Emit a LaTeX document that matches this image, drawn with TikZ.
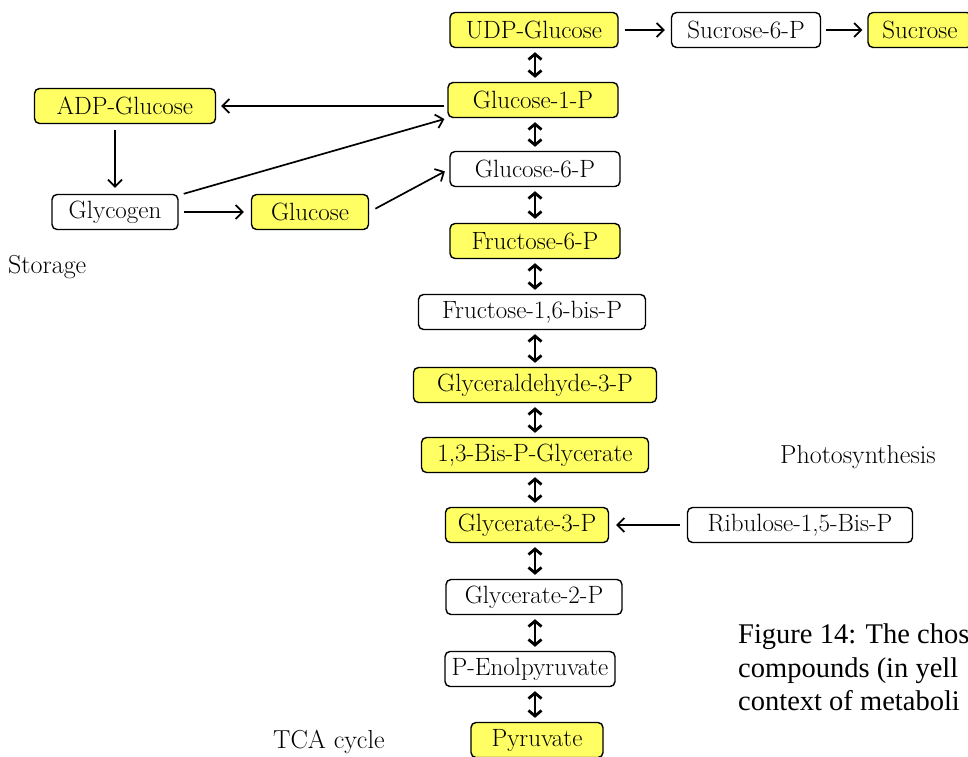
\documentclass[tikz,border=0pt]{standalone}
\usepackage{fontspec}
\usepackage{tikz}
\usetikzlibrary{arrows.meta,positioning,calc}
\newfontfamily\capfont{Liberation Serif}
\definecolor{cpyellow}{RGB}{255,255,100}
\newcommand{\boxfont}{\fontsize{25}{29}\selectfont}
\newcommand{\lblfont}{\fontsize{26}{30}\selectfont}
\tikzset{
  cpbox/.style={draw=black, line width=1.4pt, rounded corners=5pt, fill=cpyellow, minimum height=35pt, inner sep=3pt, font=\boxfont, align=center},
  otbox/.style={cpbox, fill=white},
  lbl/.style={font=\lblfont, inner sep=0pt, anchor=base west},
  capt/.style={font=\capfont\fontsize{28.5}{34}\selectfont, inner sep=0pt, anchor=base west},
  arr/.style={-{Straight Barb[length=7pt,width=14pt]}, line width=1.7pt},
  dbl/.style={{Straight Barb[length=5.5pt,width=13pt]}-{Straight Barb[length=5.5pt,width=13pt]}, line width=2.8pt, shorten >=4pt, shorten <=4pt},
}
\begin{document}
\begin{tikzpicture}[x=1pt,y=-1pt]
  \useasboundingbox (0,0) rectangle (968,756);
  % main chain
  \node[cpbox, minimum width=168pt] (udp) at (534,30) {UDP-Glucose};
  \node[otbox, minimum width=149pt] (suc6p) at (746,30) {Sucrose-6-P};
  \node[cpbox, minimum width=104pt] (suc) at (920,30) {Sucrose};
  \node[cpbox, minimum width=170pt] (g1p) at (533,100) {Glucose-1-P};
  \node[otbox, minimum width=170pt] (g6p) at (535,169) {Glucose-6-P};
  \node[cpbox, minimum width=170pt] (f6p) at (535,241) {Fructose-6-P};
  \node[otbox, minimum width=227pt] (f16bp) at (532,312) {Fructose-1,6-bis-P};
  \node[cpbox, minimum width=243pt] (gap) at (535,385) {Glyceraldehyde-3-P};
  \node[cpbox, minimum width=227pt] (bpg) at (535,455) {1,3-Bis-P-Glycerate};
  \node[cpbox, minimum width=163pt] (g3p) at (527,525) {Glycerate-3-P};
  \node[otbox, minimum width=225pt] (rubp) at (800,525) {Ribulose-1,5-Bis-P};
  \node[otbox, minimum width=176pt] (g2p) at (534,597) {Glycerate-2-P};
  \node[otbox, minimum width=170pt] (pep) at (530,669) {P-Enolpyruvate};
  \node[cpbox, minimum width=132pt] (pyr) at (537,740) {Pyruvate};
  % storage side
  \node[cpbox, minimum width=181pt] (adp) at (125,106) {ADP-Glucose};
  \node[otbox, minimum width=126pt] (glycogen) at (115,212) {Glycogen};
  \node[cpbox, minimum width=117pt] (glc) at (310,212) {Glucose};
  % labels
  \node[lbl] (storage) at (8,273) {Storage};
  \node[lbl] (photo) at (780,463) {Photosynthesis};
  \node[lbl] (tca) at (273,748) {TCA cycle};
  \node[capt] (cap1) at (738,643) {Figure 14: The chos};
  \node[capt] (cap2) at (738,677) {compounds (in yell};
  \node[capt] (cap3) at (738,710) {context of metaboli};
  % reversible steps
  \coordinate (spine) at (535,0);
  \foreach \a/\b in {udp/g1p,g1p/g6p,g6p/f6p,f6p/f16bp,f16bp/gap,gap/bpg,bpg/g3p,g3p/g2p,g2p/pep,pep/pyr}
    \draw[dbl] (spine |- \a.south) -- (spine |- \b.north);
  % one-way steps
  \draw[arr, shorten <=6pt, shorten >=6pt] (udp.east) -- (suc6p.west);
  \draw[arr, shorten <=5pt, shorten >=5pt] (suc6p.east) -- (suc.west);
  \draw[arr, shorten <=3pt, shorten >=5pt] (g1p.west |- adp.east) -- (adp.east);
  \draw[arr, shorten <=6pt, shorten >=6pt] (adp.south -| glycogen.north) -- (glycogen.north);
  \draw[arr, shorten <=5pt, shorten >=7pt] (glycogen.east) -- (glc.west);
  \draw[arr, shorten >=3pt] (glycogen.north east) ++(5,0) coordinate (gy) -- (g1p.south west);
  \draw[arr, shorten <=7pt, shorten >=5pt] (glc.east) -- (g6p.west);
  \draw[arr, shorten <=7pt, shorten >=7pt] (rubp.west) -- (g3p.east);
\end{tikzpicture}
\end{document}
